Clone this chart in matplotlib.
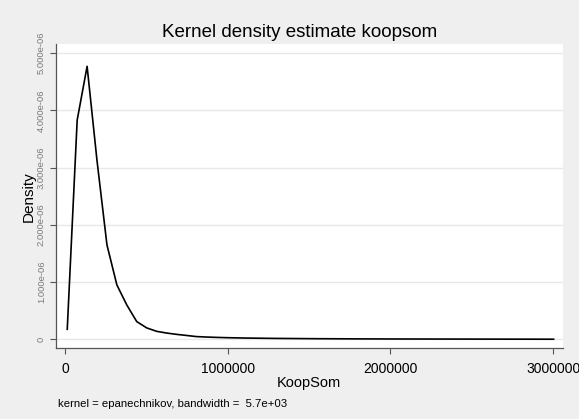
import numpy as np
import matplotlib
matplotlib.use("Agg")
import matplotlib.pyplot as plt

plt.rcParams['font.family'] = ['Liberation Sans', 'DejaVu Sans']

# density estimate of koopsom
koopsom = [14000, 75000, 136000, 197000, 258000, 319000, 380000, 441000,
           502000, 563000, 624000, 685000, 746000, 807000, 868000, 929000,
           990000, 1112000, 1295000, 1539000, 1783000, 2027000, 2271000,
           2515000, 2759000, 3003000]
density = [0.175e-6, 3.83e-6, 4.77e-6, 3.12e-6, 1.65e-6, 0.95e-6, 0.60e-6,
           0.31e-6, 0.20e-6, 0.14e-6, 0.11e-6, 0.087e-6, 0.068e-6, 0.048e-6,
           0.040e-6, 0.034e-6, 0.029e-6, 0.022e-6, 0.016e-6, 0.011e-6,
           0.008e-6, 0.006e-6, 0.005e-6, 0.004e-6, 0.003e-6, 0.002e-6]

xticks = [0, 1000000, 2000000, 3000000]
xticklabels = ['0', '1000000', '2000000', '3000000']
yticks = [0, 1e-6, 2e-6, 3e-6, 4e-6, 5e-6]
yticklabels = ['0', '1.000e-06', '2.000e-06', '3.000e-06', '4.000e-06', '5.000e-06']

fig = plt.figure(figsize=(5.79, 4.19), dpi=100, facecolor='#efefef')
ax = fig.add_axes([0.0962, 0.1683, 0.8762, 0.7267])
ax.set_facecolor('white')

ax.plot(koopsom, density, color='black', lw=1.2)

ax.set_xlim(-57000, 3061000)
ax.set_ylim(-0.16e-6, 5.16e-6)

ax.set_yticks(yticks)
ax.set_yticklabels(yticklabels, rotation=90, va='center', fontsize=6.8, color='#7a7a7a')
ax.set_xticks(xticks)
ax.set_xticklabels(xticklabels, fontsize=10)
ax.tick_params(axis='both', direction='out', length=4, width=0.8, color='#555555')
ax.tick_params(axis='y', pad=3)
ax.tick_params(axis='x', pad=6)

ax.grid(axis='y', color='#e8e8e8', lw=1)
ax.set_axisbelow(True)

for s in ['top', 'right']:
    ax.spines[s].set_visible(False)
for s in ['left', 'bottom']:
    ax.spines[s].set_color('#555555')
    ax.spines[s].set_linewidth(0.9)

ax.set_xlabel('KoopSom', fontsize=10.5, labelpad=0)
ax.set_ylabel('Density', fontsize=11, labelpad=1)
fig.text(0.518, 0.922, 'Kernel density estimate koopsom', ha='center', va='center', fontsize=13.5)
fig.text(0.101, 0.035, 'kernel = epanechnikov, bandwidth =  5.7e+03', ha='left', va='center', fontsize=8.2)

fig.savefig('out.png', dpi=100, facecolor=fig.get_facecolor())
